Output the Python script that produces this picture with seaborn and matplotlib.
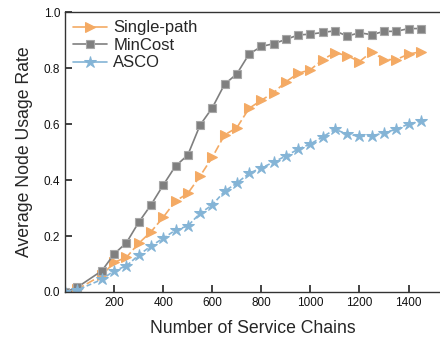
import pandas as pd
import matplotlib
matplotlib.use('Agg')
import matplotlib.pyplot as plt
import seaborn as sns

# Data
chains = [0, 50, 150, 200, 250, 300, 350, 400, 450, 500, 550, 600, 650, 700, 750,
          800, 850, 900, 950, 1000, 1050, 1100, 1150, 1200, 1250, 1300, 1350, 1400, 1450]
single_path = [0.0, 0.01, 0.06, 0.106, 0.124, 0.174, 0.215, 0.267, 0.325, 0.352, 0.414, 0.481,
               0.561, 0.587, 0.656, 0.685, 0.712, 0.751, 0.781, 0.794, 0.83, 0.855, 0.844,
               0.823, 0.858, 0.83, 0.83, 0.85, 0.858]
mincost = [0.0, 0.017, 0.076, 0.136, 0.176, 0.249, 0.311, 0.382, 0.45, 0.489, 0.596, 0.658,
           0.742, 0.779, 0.85, 0.877, 0.887, 0.902, 0.918, 0.921, 0.927, 0.933, 0.914,
           0.926, 0.919, 0.931, 0.931, 0.941, 0.941]
asco = [0.0, 0.007, 0.045, 0.076, 0.093, 0.132, 0.164, 0.192, 0.221, 0.236, 0.281, 0.311,
        0.36, 0.389, 0.424, 0.443, 0.464, 0.486, 0.51, 0.529, 0.554, 0.581, 0.564,
        0.556, 0.557, 0.569, 0.581, 0.6, 0.61]
x_ticks = [200, 400, 600, 800, 1000, 1200, 1400]
y_ticks = [0.0, 0.2, 0.4, 0.6, 0.8, 1.0]

sns.set_style('white')
plt.rcParams['font.family'] = ['Liberation Sans', 'DejaVu Sans']

fig = plt.figure(figsize=(4.4, 3.41), dpi=100)
ax = fig.add_axes([0.148, 0.1437, 0.853, 0.821])

sns.lineplot(x=chains, y=single_path, ax=ax, color='#F4AA64', marker='>', markersize=7,
             markeredgecolor='#F4AA64', linestyle=(0, (5, 2)), linewidth=1.2, label='Single-path')
sns.lineplot(x=chains, y=mincost, ax=ax, color='#7F7F7F', marker='s', markersize=6,
             markeredgecolor='#A8A8A8', markeredgewidth=0.8, linewidth=1.2, label='MinCost')
sns.lineplot(x=chains, y=asco, ax=ax, color='#84B4D6', marker='*', markersize=9,
             markeredgecolor='#84B4D6', linestyle=(0, (3, 1.5)), linewidth=1.2, label='ASCO')

ax.set_xlim(0, 1530)
ax.set_ylim(0, 1.0)
ax.set_xticks(x_ticks)
ax.set_yticks(y_ticks)
ax.set_yticklabels([f'{v:.1f}' for v in y_ticks])
ax.tick_params(axis='both', which='major', bottom=True, left=True, direction='in',
               length=5, width=1.2, color='#222222', labelcolor='#111111', labelsize=8.5)
for side in ['left', 'bottom', 'top']:
    ax.spines[side].set_color('#333333')
    ax.spines[side].set_linewidth(1.0)
ax.spines['right'].set_visible(False)

ax.set_xlabel('Number of Service Chains', fontsize=12.7, labelpad=8)
ax.set_ylabel('Average Node Usage Rate', fontsize=12.7, labelpad=8)

leg = ax.legend(loc='upper left', frameon=False, fontsize=12, handlelength=2.0,
                labelspacing=0.15, borderaxespad=0.1, handletextpad=0.4)
for h in leg.get_lines():
    h.set_linestyle('-')

fig.savefig('out.png', dpi=100)
